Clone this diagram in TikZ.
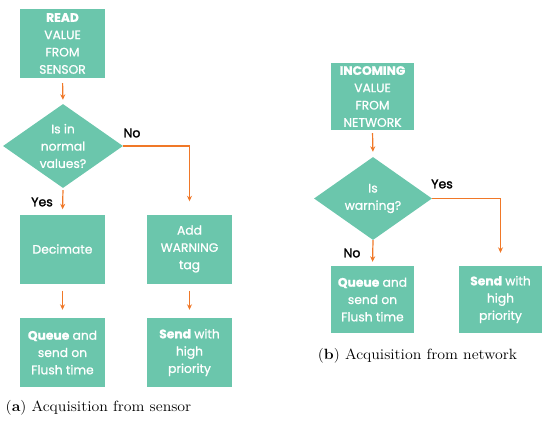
\documentclass[tikz,border=0pt]{standalone}
\usepackage{fontspec}
\newfontfamily\boxfont{Poppins}[RawFeature={embolden=0.9}]
\newfontfamily\lblfont{Poppins}[RawFeature={embolden=1.8}]
\usetikzlibrary{shapes.geometric,arrows.meta}
\definecolor{teal1}{RGB}{107,198,172}
\definecolor{arr}{RGB}{240,120,40}
\tikzset{
  stepbox/.style={draw=none,fill=teal1,text=white,font=\boxfont\fontsize{12.3}{17.3}\selectfont,
    align=center,minimum width=85pt,minimum height=69pt,inner sep=0pt},
  decision/.style={diamond,draw=none,fill=teal1,text=white,font=\boxfont\fontsize{12.3}{17.3}\selectfont,
    align=center,minimum width=120pt,minimum height=84pt,inner sep=0pt,aspect=1.43},
  conn/.style={draw=arr,line width=1.2pt,-{Stealth[length=5.5pt,width=5pt]}},
  lbl/.style={font=\lblfont\fontsize{12.5}{14}\selectfont,text=black,inner sep=0pt},
  captext/.style={font=\fontsize{14.4}{17}\selectfont,inner sep=0pt,xscale=1.1,yscale=1.03}
}
\begin{document}
\begin{tikzpicture}[x=1pt,y=-1pt]
\useasboundingbox (0,0) rectangle (550,423);
% (a) sensor
\node[stepbox] (read) at (62.5,43.5) {\textbf{READ}\\VALUE\\FROM\\SENSOR};
\node[decision] (isin) at (63,146) {Is in\\normal\\values?};
\node[stepbox] (dec) at (62.5,249) {Decimate};
\node[stepbox] (warn) at (189.5,249) {Add\\WARNING\\tag};
\node[stepbox] (queuea) at (62.5,352.5) {\textbf{Queue} and\\send on\\Flush time};
\node[stepbox] (senda) at (189.5,352.5) {\textbf{Send} with\\high\\priority};
\draw[conn,shorten <=5pt,shorten >=4pt] (read.south) -- (isin.north);
\draw[conn,shorten <=2pt,shorten >=5pt] (isin.south) -- (dec.north);
\draw[conn,shorten >=13pt] (isin.east) -| (warn.north);
\draw[conn,shorten <=7pt,shorten >=8pt] (dec.south) -- (queuea.north);
\draw[conn,shorten <=7pt,shorten >=8pt] (warn.south) -- (senda.north);
\node[lbl] (noa) at (132,133) {No};
\node[lbl] (yesa) at (42,202) {Yes};
\node[captext] (capa) at (98.5,408) {(\textbf{a}) Acquisition from sensor};
% (b) network
\node[stepbox,minimum width=83pt,minimum height=67pt] (inc) at (372.5,96.5) {\textbf{INCOMING}\\VALUE\\FROM\\NETWORK};
\node[decision,minimum width=118pt,minimum height=83pt] (iswarn) at (373,198.5) {Is\\warning?};
\node[stepbox,minimum width=83pt,minimum height=67pt] (queueb) at (372.5,299.5) {\textbf{Queue} and\\send on\\Flush time};
\node[stepbox,minimum width=83pt,minimum height=67pt] (sendb) at (500.5,299.5) {\textbf{Send} with\\high\\priority};
\draw[conn,shorten <=3pt,shorten >=5pt] (inc.south) -- (iswarn.north);
\draw[conn,shorten >=4pt] (iswarn.south) -- (queueb.north);
\draw[conn,shorten >=13pt] (iswarn.east) -| (sendb.north);
\node[lbl] (yesb) at (442,184) {Yes};
\node[lbl] (nob) at (352,253) {No};
\node[captext] (capb) at (417.5,356) {(\textbf{b}) Acquisition from network};
\end{tikzpicture}
\end{document}
